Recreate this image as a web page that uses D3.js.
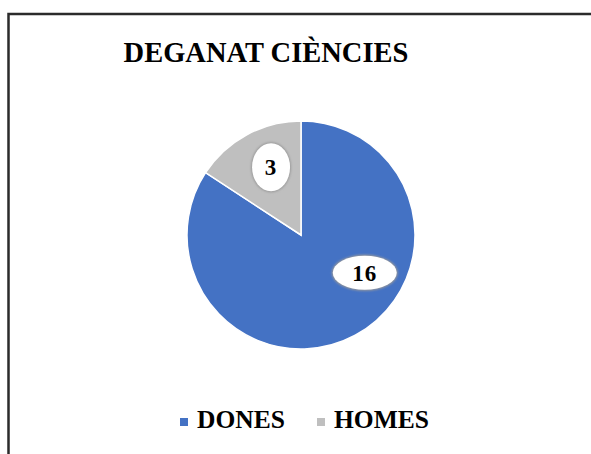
<!DOCTYPE html>
<html>
<head>
<meta charset="utf-8">
<script src="https://cdn.jsdelivr.net/npm/d3@7"></script>
<style>
  html, body { margin: 0; padding: 0; background: #fff; }
  svg { display: block; }
</style>
</head>
<body>
<svg id="chart" width="591" height="454"></svg>
<script>
const title = "DEGANAT CIÈNCIES";
const categories = ["DONES", "HOMES"];
const values = [16, 3];
const colors = ["#4472C4", "#BFBFBF"];

const W = 591, H = 454;
const svg = d3.select("#chart");
const serif = "'Liberation Serif', 'Times New Roman', serif";

const defs = svg.append("defs");
const f = defs.append("filter").attr("id", "soft").attr("x", "-30%").attr("y", "-30%").attr("width", "160%").attr("height", "160%");
f.append("feGaussianBlur").attr("stdDeviation", 0.8);

// outer border (extends beyond right and bottom edges)
svg.append("rect")
  .attr("x", 8.5).attr("y", 14)
  .attr("width", W + 20).attr("height", H + 20)
  .attr("fill", "#fff")
  .attr("stroke", "#2b2b2b")
  .attr("stroke-width", 2.5);

// title
svg.append("text")
  .attr("x", 266).attr("y", 62)
  .attr("text-anchor", "middle")
  .attr("font-family", serif)
  .attr("font-weight", "bold")
  .attr("font-size", 28.5)
  .attr("fill", "#000")
  .text(title);

// pie
const cx = 301, cy = 235, R = 114;
const data = categories.map((c, i) => ({ cat: c, value: values[i], color: colors[i] }));
const pie = d3.pie().sort(null).value(d => d.value);
const arcs = pie(data);
const arc = d3.arc().innerRadius(0).outerRadius(R);
const color = d3.scaleOrdinal().domain(categories).range(colors);

const g = svg.append("g").attr("transform", `translate(${cx},${cy})`);
g.selectAll("path.slice")
  .data(arcs)
  .join("path")
  .attr("class", "slice")
  .attr("d", arc)
  .attr("fill", d => color(d.data.cat))
  .attr("stroke", "#fff")
  .attr("stroke-width", 1.5);

// data labels (best-fit-like placement around 0.65R)
const labelRadius = R * 0.65;
const labelAngleShift = [-0.54, 0.08]; // radians offset from slice mid-angle
const labelSize = [[32, 17], [19, 24]];
const lg = g.selectAll("g.lbl")
  .data(arcs)
  .join("g")
  .attr("class", "lbl")
  .attr("transform", (d, i) => {
    const a = (d.startAngle + d.endAngle) / 2 + labelAngleShift[i];
    return `translate(${Math.sin(a) * labelRadius},${-Math.cos(a) * labelRadius})`;
  });
lg.append("ellipse")
  .attr("rx", (d, i) => labelSize[i][0] + 1).attr("ry", (d, i) => labelSize[i][1] + 1)
  .attr("fill", "#9a9a9a")
  .attr("filter", "url(#soft)");
lg.append("ellipse")
  .attr("rx", (d, i) => labelSize[i][0]).attr("ry", (d, i) => labelSize[i][1])
  .attr("fill", "#fff");
lg.append("text")
  .attr("text-anchor", "middle")
  .attr("dy", "0.35em")
  .attr("font-family", serif)
  .attr("font-weight", "bold")
  .attr("font-size", 23)
  .attr("letter-spacing", 1)
  .attr("fill", "#000")
  .text(d => d.data.value);

// legend
const legendX = [180, 317];
const leg = svg.selectAll("g.leg")
  .data(data)
  .join("g")
  .attr("class", "leg")
  .attr("transform", (d, i) => `translate(${legendX[i]},418)`);
leg.append("rect")
  .attr("width", 8).attr("height", 8)
  .attr("fill", d => color(d.cat));
leg.append("text")
  .attr("x", 17).attr("y", 10)
  .attr("font-family", serif)
  .attr("font-weight", "bold")
  .attr("font-size", 25.5)
  .attr("fill", "#000")
  .text(d => d.cat);
</script>
</body>
</html>
